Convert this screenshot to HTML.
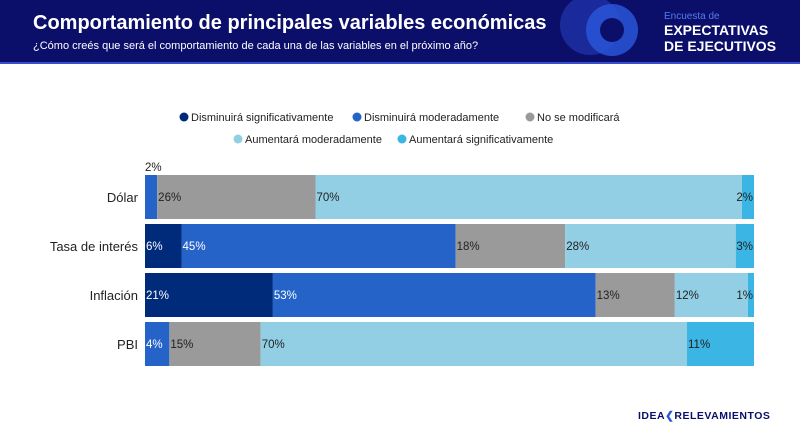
<!DOCTYPE html>
<html><head><meta charset="utf-8"><style>
body{margin:0;width:800px;height:447px;background:#fff;font-family:"Liberation Sans",sans-serif;overflow:hidden;position:relative}
#hdr{position:absolute;left:0;top:0;width:800px;height:62px;background:#0c0f6a;border-bottom:2px solid #3a4fd0;overflow:hidden}
.t{position:absolute;color:#fff}
</style></head><body>
<div id="hdr">
<svg width="800" height="62" style="position:absolute;left:0;top:0">
<circle cx="590" cy="25" r="30" fill="#1a2a9a"/><circle cx="612" cy="30" r="26" fill="#2a55d8" opacity="0.85"/><circle cx="612" cy="30" r="12" fill="#0c0f6a"/></svg>
<div class="t" style="left:33px;top:12px;font-size:20px;font-weight:bold">Comportamiento de principales variables económicas</div>
<div class="t" style="left:33px;top:40px;font-size:11px">¿Cómo creés que será el comportamiento de cada una de las variables en el próximo año?</div>
<div class="t" style="left:664px;top:11px;font-size:10px;color:#4f7df0">Encuesta de</div>
<div class="t" style="left:664px;top:22px;font-size:14px;font-weight:bold;line-height:16px">EXPECTATIVAS<br>DE EJECUTIVOS</div>
</div>
<svg id="chart" width="800" height="447" style="position:absolute;left:0;top:0"></svg>
<div style="position:absolute;left:638px;top:410px;font-size:10.5px;font-weight:bold;color:#0c0f6a;letter-spacing:0.5px">IDEA<span style="color:#2a55d8">❮</span>RELEVAMIENTOS</div>
<script>
const categories=["Dólar","Tasa de interés","Inflación","PBI"];
const seriesNames=["Disminuirá significativamente","Disminuirá moderadamente","No se modificará","Aumentará moderadamente","Aumentará significativamente"];
const s1=[0,6,21,0];
const s2=[2,45,53,4];
const s3=[26,18,13,15];
const s4=[70,28,12,70];
const s5=[2,3,1,11];
const colors=["#002a7a","#2563c9","#9a9a9a","#93cfe4","#3bb5e3"];
const textCol=["#fff","#fff","#222","#222","#222"];
const svg=document.getElementById('chart');const NS="http://www.w3.org/2000/svg";
const X0=145,W=609,rowTop=175,rowStep=49,barH=44;
const x=v=>X0+v/100*W;
function mk(t,a){const e=document.createElementNS(NS,t);for(const k in a)e.setAttribute(k,a[k]);svg.appendChild(e);return e;}
const series=[s1,s2,s3,s4,s5];
const leg=[[184,117],[357,117],[530,117],[238,139],[402,139]];
seriesNames.forEach((n,i)=>{
 const c=mk('circle',{cx:leg[i][0],cy:leg[i][1],r:4.5,fill:colors[i]});
 
 
 const t=mk('text',{x:leg[i][0]+7,y:leg[i][1]+4,'font-size':11,fill:'#222'});t.textContent=n;
 
 
});
categories.forEach((cat,r)=>{
 const y=rowTop+r*rowStep;
 const lbl=mk('text',{x:138,y:y+barH/2+5,'font-size':13,fill:'#222','text-anchor':'end'});lbl.textContent=cat;
 
 
 let cum=0;
 series.forEach((s,i)=>{
  const v=s[r];if(v<=0)return;
  const rc=mk('rect',{x:x(cum),y:y,width:x(cum+v)-x(cum),height:barH,fill:colors[i]});
  
  
  let tx=x(cum)+1,anchor='start',ty=y+barH/2+4,col=textCol[i];
  if(v<=3&&cum+v>=99){tx=x(100)-1;anchor='end';}
  else if(v<=2&&cum===0){tx=X0;ty=y-4;col='#222';}
  const t=mk('text',{x:tx,y:ty,'font-size':11.5,fill:col,'text-anchor':anchor});t.textContent=v+'%';
  
  
  cum+=v;
 });
});
</script>
</body></html>
